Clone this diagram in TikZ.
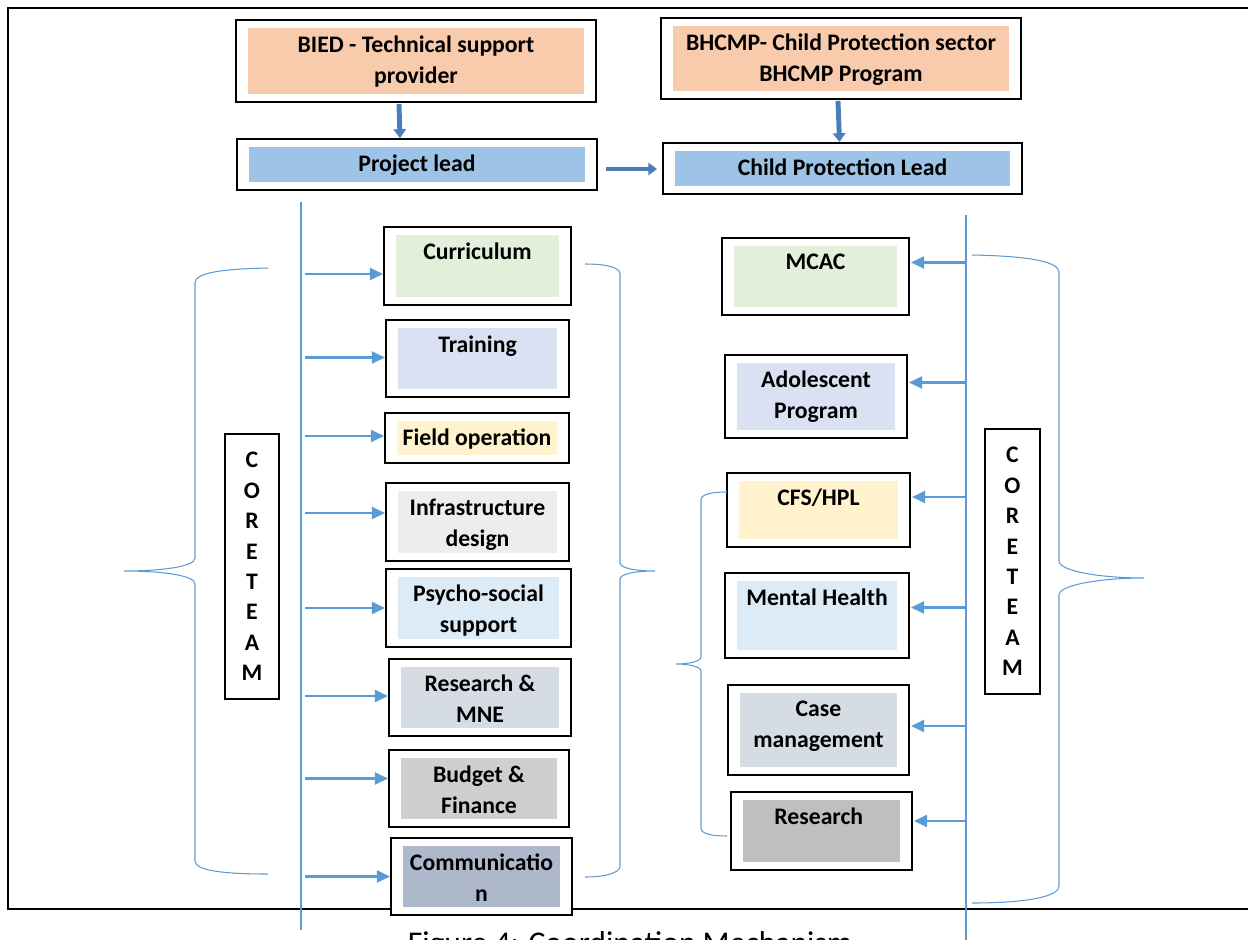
\documentclass[tikz,border=0pt]{standalone}
\usepackage{fontspec}
\setmainfont{Carlito}
\usetikzlibrary{
    arrows.meta,
    calc,
    fit,
    positioning
}
\definecolor{peach}{HTML}{F8CBAD}
\definecolor{leadblue}{HTML}{9DC3E6}
\definecolor{mint}{HTML}{E2EFDA}
\definecolor{lavender}{HTML}{D9E1F2}
\definecolor{cream}{HTML}{FFF2CC}
\definecolor{smoke}{HTML}{EDEDED}
\definecolor{paleblue}{HTML}{DDEBF7}
\definecolor{bluegrey}{HTML}{D6DCE4}
\definecolor{ash}{HTML}{D0CECE}
\definecolor{slate}{HTML}{ADB9CA}
\definecolor{midgrey}{HTML}{BFBFBF}
\definecolor{linkblue}{HTML}{5B9BD5}
\definecolor{arrowblue}{HTML}{4A7EBB}
\tikzset{
    unitbox/.style={draw=black, fill=white, line width=1.1pt, inner sep=0pt},
    unitfill/.style={draw=none, inner sep=0pt},
    unittext/.style={anchor=north, align=center, inner sep=0pt, font=\fontsize{13.5}{17.5}\selectfont\bfseries},
    corebox/.style={draw=black, fill=white, line width=1.1pt, align=center, inner sep=0pt,
        minimum width=1.09cm, minimum height=5.3cm, font=\fontsize{13.5}{17.3}\selectfont\bfseries},
    feed/.style={draw=linkblue, line width=1.4pt, -{Triangle[length=7.5pt,width=6.8pt]}},
    blockarrow/.style={draw=arrowblue, line width=2.8pt, -{Triangle[length=5pt,width=7pt]}},
    spine/.style={draw=linkblue, line width=0.6pt},
    curly/.style={draw=linkblue, line width=0.6pt},
    outerframe/.style={draw=black, line width=1.3pt}
}
\begin{document}
\begin{tikzpicture}[x=0.02cm, y=-0.02cm]
    \useasboundingbox (0,0) rectangle (1248,940);
    \clip (0,0) rectangle (1248,940);
    % page frame and caption
    \draw[outerframe] (1260,8) -- (8,8) -- (8,909) -- (1260,909);
    \node[anchor=north, inner sep=0pt, font=\fontsize{18}{21}\selectfont] (caption) at (630,931) {Figure 4: Coordination Mechanism};
    % the two spines
    \coordinate (lspine) at (301,202);
    \coordinate (lspineEnd) at (301,930);
    \coordinate (rspine) at (966,215);
    \coordinate (rspineEnd) at (966,945);
    \draw[spine] (lspine) -- (lspineEnd);
    \draw[spine] (rspine) -- (rspineEnd);
    % boxes: name / corners / colour / text
    \foreach \nm/\xa/\ya/\xb/\yb/\col/\txt in {
        bied/236/20/596/102/peach/{BIED - Technical support\\provider},
        plead/237/139/597/190/leadblue/{Project lead},
        bhcmp/661/18/1021/99/peach/{BHCMP- Child Protection sector\\BHCMP Program},
        cplead/663/143/1022/194/leadblue/{Child Protection Lead},
        curr/384/227/571/305/mint/{Curriculum},
        train/386/320/569/397/lavender/{Training},
        field/385/413/569/463/cream/{Field operation},
        infra/386/483/569/561/smoke/{Infrastructure\\design},
        psy/386/569/571/647/paleblue/{Psycho-social\\support},
        resmne/389/659/571/736/bluegrey/{Research \&\\MNE},
        budget/389/750/569/827/ash/{Budget \&\\Finance},
        comm/391/838/572/915/slate/{Communicatio\\n},
        mcac/722/238/909/315/mint/{MCAC},
        adol/725/355/907/438/lavender/{Adolescent\\Program},
        cfs/727/473/910/547/cream/{CFS/HPL},
        mental/725/573/909/658/paleblue/{Mental Health},
        casem/728/685/909/775/bluegrey/{Case\\management},
        resrch/731/792/912/870/midgrey/{Research}
    }{
        \node[unitbox, fit={(\xa,\ya) (\xb,\yb)}] (\nm) {};
        \node[unitfill, fill=\col, fit={($(\nm.north west)+(13,9)$) ($(\nm.south east)+(-13,-9)$)}] (\nm-f) {};
        \node[unittext] (\nm-t) at ($(\nm-f.north)+(0,8)$) {\txt};
    }
    % core team boxes
    \node[corebox] (coreL) at (252,566.5) {C\\O\\R\\E\\T\\E\\A\\M};
    \node[corebox] (coreR) at (1012.5,561.5) {C\\O\\R\\E\\T\\E\\A\\M};
    % top arrows
    \draw[blockarrow] ($(bied.south)+(-17,1)$) -- ($(plead.north)+(-17,0)$);
    \draw[blockarrow] ($(bhcmp.south)+(-3,1)$) -- ($(cplead.north)+(-3,0)$);
    \draw[blockarrow] ($(plead.east)+(8,4.5)$) -- ($(cplead.west)+(-5,0.5)$);
    % spine to boxes
    \foreach \nm/\dy in {curr/8, train/-1, field/-2, infra/-9, psy/0, resmne/-1.5, budget/-10, comm/0}
        \draw[feed] ($(lspine |- \nm.west)+(4,\dy)$) -- ($(\nm.west)+(0,\dy)$);
    \foreach \nm/\dy in {mcac/-14, adol/-14, cfs/-13, mental/-8, casem/-4, resrch/-10}
        \draw[feed] ($(rspine |- \nm.east)+(-1,\dy)$) -- ($(\nm.east)+(1,\dy)$);
    % braces
    \draw[curly] (268,268) .. controls (220,269) and (195,273) .. (195,283) -- (195,558)
        .. controls (195,567) and (160,571) .. (124,571) .. controls (160,571) and (195,575) .. (195,584)
        -- (195,861) .. controls (195,870) and (220,874) .. (268,874);
    \draw[curly] (585,264) .. controls (605,264) and (620,267) .. (620,274) -- (620,563)
        .. controls (620,568) and (635,571) .. (655,571) .. controls (635,571) and (620,574) .. (620,579)
        -- (620,866) .. controls (620,873) and (605,877) .. (585,877);
    \draw[curly] (972,255) .. controls (1030,256) and (1059,262) .. (1059,272) -- (1059,561)
        .. controls (1059,571) and (1100,578) .. (1144,578) .. controls (1100,578) and (1059,585) .. (1059,595)
        -- (1059,886) .. controls (1059,896) and (1030,903) .. (972,903);
    \draw[curly] (727,492) .. controls (712,492) and (701,494) .. (701,500) -- (701,657)
        .. controls (701,661) and (690,664) .. (676,664) .. controls (690,664) and (701,667) .. (701,671)
        -- (701,828) .. controls (701,834) and (712,836) .. (727,836);
\end{tikzpicture}
\end{document}
